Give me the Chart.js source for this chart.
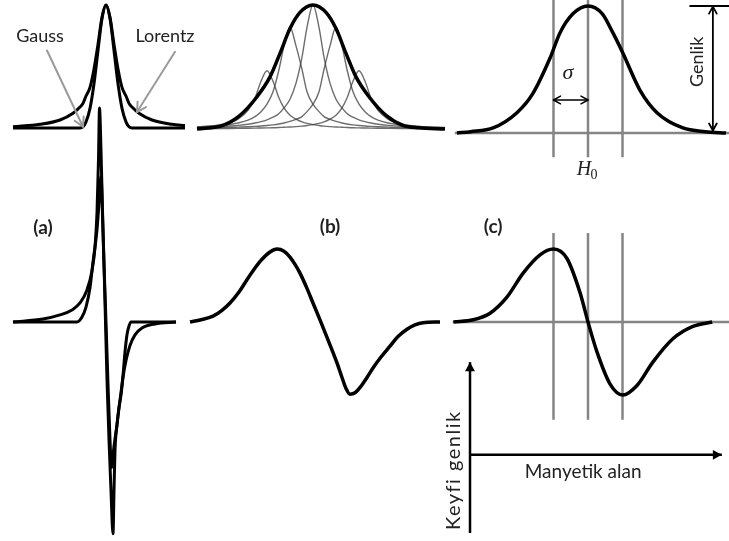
<!DOCTYPE html>
<html>
<head>
<meta charset="utf-8">
<script src="https://cdn.jsdelivr.net/npm/chart.js@4/dist/chart.umd.min.js"></script>
<style>
  html, body { margin: 0; padding: 0; background: #fff; }
  canvas { display: block; }
</style>
</head>
<body>
<canvas id="eprChart" width="729" height="541"></canvas>
<script>
// (a) absorption lines, field in arbitrary units, amplitude normalised
const absField = [-9.3, -6.6, -4.6, -3.3, -2.6, -2.3, -2.0, -1.6, -1.2, -0.8, -0.4, 0, 0.4, 0.8, 1.2, 1.6, 2.0, 2.3, 2.6, 3.3, 4.6, 6.6, 7.9];
const lorentzAbs = [0.01, 0.03, 0.065, 0.12, 0.17, 0.2, 0.26, 0.33, 0.48, 0.68, 0.9, 1, 0.9, 0.68, 0.48, 0.33, 0.26, 0.2, 0.17, 0.12, 0.065, 0.03, 0.02];
const gaussAbs = [0, 0, 0, 0, 0, 0.01, 0.05, 0.16, 0.36, 0.63, 0.89, 1, 0.89, 0.63, 0.36, 0.16, 0.05, 0.01, 0, 0, 0, 0, 0];

// (a) first derivatives
const lorentzDerField = [-9.3, -6.3, -4.6, -3.4, -2.6, -1.9, -1.4, -1.1, -0.9, -0.75, -0.65, -0.5, -0.35, -0.2, -0.05, 0.1, 0.3, 0.5, 0.7, 0.8, 0.9, 1.1, 1.3, 1.5, 1.7, 2.0, 2.4, 2.9, 3.6, 4.9, 7.0];
const lorentzDer = [0, 0.014, 0.033, 0.056, 0.089, 0.15, 0.24, 0.35, 0.51, 0.76, 1.0, 0.80, 0.52, 0.27, 0, -0.27, -0.55, -0.79, -0.99, -0.79, -0.60, -0.48, -0.40, -0.34, -0.26, -0.18, -0.11, -0.06, -0.028, -0.009, 0];
const gaussDerField = [-9.3, -2.9, -2.4, -2.0, -1.6, -1.3, -0.9, -0.65, -0.5, -0.35, -0.2, 0, 0.2, 0.4, 0.55, 0.8, 1.1, 1.3, 1.5, 1.7, 1.9, 2.1, 2.3, 2.5, 7.0];
const gaussDer = [0, 0, 0.023, 0.07, 0.16, 0.28, 0.43, 0.59, 0.68, 0.50, 0.27, 0, -0.29, -0.55, -0.68, -0.58, -0.48, -0.40, -0.33, -0.25, -0.14, -0.06, -0.019, 0, 0];

// (b) inhomogeneous line: envelope + spin packets
const envField = [-11.6, -9.0, -7.3, -5.6, -4.3, -3.3, -2.3, -1.3, 0, 1.3, 2.3, 3.3, 4.3, 5.6, 7.3, 9.0, 10.5, 13.2];
const envelope = [0, 0.03, 0.11, 0.26, 0.42, 0.61, 0.81, 0.94, 1, 0.94, 0.81, 0.61, 0.42, 0.26, 0.11, 0.03, 0.01, 0];
const packetField = [-11.6, -9, -7.5, -6.5, -5.8, -5.2, -4.6, -4.0, -3.4, -2.9, -2.3, -1.7, -1.1, -0.6, 0, 0.6, 1.1, 1.7, 2.3, 2.9, 3.4, 4.0, 4.6, 5.2, 5.8, 6.5, 7.5, 9, 11, 13.2];
const packet1 = [0.016, 0.038, 0.080, 0.15, 0.25, 0.385, 0.47, 0.385, 0.25, 0.17, 0.11, 0.08, 0.057, 0.045, 0.035, 0.028, 0.023, 0.019, 0.016, 0.014, 0.012, 0.010, 0.009, 0.008, 0.007, 0.006, 0.005, 0.004, 0.003, 0.002];
const packet2 = [0.016, 0.030, 0.048, 0.072, 0.10, 0.14, 0.20, 0.30, 0.48, 0.67, 0.82, 0.67, 0.48, 0.30, 0.20, 0.14, 0.10, 0.078, 0.061, 0.048, 0.040, 0.033, 0.028, 0.024, 0.021, 0.018, 0.015, 0.011, 0.008, 0.006];
const packet3 = [0.012, 0.02, 0.029, 0.038, 0.048, 0.059, 0.074, 0.095, 0.125, 0.17, 0.24, 0.37, 0.58, 0.82, 1, 0.82, 0.58, 0.37, 0.24, 0.17, 0.125, 0.095, 0.074, 0.059, 0.048, 0.038, 0.029, 0.02, 0.013, 0.01];
const packet4 = [0.007, 0.011, 0.015, 0.018, 0.021, 0.024, 0.028, 0.033, 0.040, 0.048, 0.061, 0.078, 0.10, 0.14, 0.20, 0.30, 0.48, 0.67, 0.82, 0.67, 0.48, 0.30, 0.20, 0.14, 0.10, 0.072, 0.048, 0.030, 0.018, 0.012];
const packet5 = [0.002, 0.004, 0.005, 0.006, 0.007, 0.008, 0.009, 0.010, 0.012, 0.014, 0.016, 0.019, 0.023, 0.028, 0.035, 0.045, 0.057, 0.08, 0.11, 0.17, 0.25, 0.385, 0.47, 0.385, 0.25, 0.15, 0.08, 0.038, 0.018, 0.010];
const derBField = [-12.3, -11.2, -10.0, -9.1, -8.3, -7.4, -6.6, -5.8, -5.1, -4.3, -3.6, -2.9, -2.3, -1.8, -1.3, -0.6, 0, 0.7, 1.4, 2.4, 2.9, 3.3, 3.7, 4.2, 4.8, 5.4, 6.0, 6.8, 7.7, 8.5, 9.4, 10.2, 11.0, 12.7];
const derB = [0, 0.03, 0.08, 0.16, 0.26, 0.41, 0.58, 0.74, 0.86, 0.96, 1.0, 0.97, 0.89, 0.79, 0.67, 0.46, 0.26, 0.03, -0.21, -0.56, -0.76, -0.91, -0.99, -0.97, -0.88, -0.76, -0.63, -0.48, -0.33, -0.20, -0.10, -0.04, -0.01, 0];

// (c) gaussian line, field in units of sigma
const cField = [-3.8, -3.4, -2.75, -2.06, -1.6, -1.1, -0.81, -0.43, 0, 0.41, 0.72, 1.01, 1.5, 2.0, 2.75, 3.4, 4.0];
const cAbs = [0, 0.01, 0.04, 0.16, 0.31, 0.59, 0.79, 0.94, 1, 0.94, 0.79, 0.63, 0.34, 0.16, 0.04, 0.01, 0];
const cDerField = [-3.9, -3.33, -2.84, -2.35, -1.88, -1.39, -1.0, -0.61, -0.23, 0, 0.26, 0.64, 1.01, 1.42, 1.88, 2.46, 3.04, 3.6];
const cDer = [0, 0.03, 0.12, 0.34, 0.67, 0.92, 1.0, 0.87, 0.40, 0, -0.41, -0.85, -1.0, -0.87, -0.55, -0.23, -0.06, 0];
const sigmaMarks = [-1, 0, 1];

const W = 729, H = 541;
const GRAY = '#858585';
const TEXT = '#222';
const SANS = 'Lato, "Open Sans", sans-serif';

// hidden linear scale so that value v0 sits at pixel p0 and v1 at p1
function xFit(v0, p0, v1, p1) {
    const k = (v1 - v0) / (p1 - p0);
    return { type: 'linear', display: false, bounds: 'data', min: v0 - p0 * k, max: v0 + (W - p0) * k };
}
function yFit(v0, p0, v1, p1) {
    const k = (v1 - v0) / (p0 - p1);
    const max = v0 + p0 * k;
    return { type: 'linear', display: false, bounds: 'data', min: max - H * k, max: max };
}

const pts = (xs, ys) => xs.map((x, i) => ({ x: x, y: ys[i] }));

function curve(xs, ys, xAxisID, yAxisID, color, width, order) {
    return {
        data: pts(xs, ys),
        xAxisID: xAxisID,
        yAxisID: yAxisID,
        borderColor: color,
        borderWidth: width,
        cubicInterpolationMode: 'monotone',
        borderJoinStyle: 'round',
        showLine: true,
        pointRadius: 0,
        clip: false,
        order: order
    };
}
function guide(points, xAxisID, yAxisID) {
    return {
        data: points,
        xAxisID: xAxisID,
        yAxisID: yAxisID,
        borderColor: GRAY,
        borderWidth: 2.5,
        showLine: true,
        pointRadius: 0,
        clip: false,
        order: 3
    };
}

const datasets = [
    curve(absField, lorentzAbs, 'xA', 'yAt', '#000', 3, 1),
    curve(absField, gaussAbs, 'xA', 'yAt', '#000', 3, 1),
    curve(lorentzDerField, lorentzDer, 'xA', 'yAb', '#000', 3, 1),
    curve(gaussDerField, gaussDer, 'xA', 'yAb', '#000', 3, 1),
    curve(envField, envelope, 'xB', 'yBt', '#000', 3.5, 1),
    curve(derBField, derB, 'xB', 'yBb', '#000', 3.5, 1),
    curve(cField, cAbs, 'xC', 'yCt', '#000', 3.5, 1),
    curve(cDerField, cDer, 'xC', 'yCb', '#000', 3.5, 1)
];
[packet1, packet2, packet3, packet4, packet5].forEach(p => {
    datasets.push(curve(packetField, p, 'xB', 'yBt', 'rgba(60,60,60,0.75)', 1.4, 2));
});
// gray guide lines of panel (c)
datasets.push(guide([{ x: -3.86, y: 0 }, { x: 4.09, y: 0 }], 'xC', 'yCt'));
datasets.push(guide([{ x: -3.92, y: 0 }, { x: 4.09, y: 0 }], 'xC', 'yCb'));
sigmaMarks.forEach(m => {
    datasets.push(guide([{ x: m, y: 1.05 }, { x: m, y: -0.19 }], 'xC', 'yCt'));
    datasets.push(guide([{ x: m, y: 1.22 }, { x: m, y: -1.34 }], 'xC', 'yCb'));
});

function arrowHead(ctx, x, y, angle, size, filled) {
    ctx.save();
    ctx.translate(x, y);
    ctx.rotate(angle);
    ctx.beginPath();
    ctx.moveTo(-size, -size * 0.55);
    ctx.lineTo(0, 0);
    ctx.lineTo(-size, size * 0.55);
    if (filled) {
        ctx.closePath();
        ctx.fill();
    } else {
        ctx.stroke();
    }
    ctx.restore();
}

function arrow(ctx, a, b, size, both, filled) {
    ctx.beginPath();
    ctx.moveTo(a[0], a[1]);
    ctx.lineTo(b[0], b[1]);
    ctx.stroke();
    const ang = Math.atan2(b[1] - a[1], b[0] - a[0]);
    arrowHead(ctx, b[0], b[1], ang, size, filled);
    if (both) arrowHead(ctx, a[0], a[1], ang + Math.PI, size, filled);
}

const annotations = {
    id: 'annotations',
    afterDatasetsDraw(chart) {
        const ctx = chart.ctx;
        const s = chart.scales;
        const P = (xs, ys, x, y) => [s[xs].getPixelForValue(x), s[ys].getPixelForValue(y)];
        const text = (str, p, font, rot, spacing) => {
            ctx.save();
            ctx.translate(p[0], p[1]);
            if (rot) ctx.rotate(rot);
            ctx.font = font;
            if (spacing) ctx.letterSpacing = spacing;
            ctx.fillStyle = TEXT;
            ctx.textAlign = 'center';
            ctx.textBaseline = 'middle';
            ctx.fillText(str, 0, 0);
            ctx.restore();
        };
        ctx.save();
        ctx.lineCap = 'round';
        ctx.lineJoin = 'round';

        // (a) labels with gray pointers
        text('Gauss', P('xA', 'yAt', -6.6, 0.75), '18px ' + SANS);
        text('Lorentz', P('xA', 'yAt', 5.9, 0.75), '18px ' + SANS);
        ctx.strokeStyle = '#9a9a9a';
        ctx.lineWidth = 2;
        arrow(ctx, P('xA', 'yAt', -5.9, 0.63), P('xA', 'yAt', -2.3, 0.01), 9, false, false);
        arrow(ctx, P('xA', 'yAt', 6.9, 0.62), P('xA', 'yAt', 3.1, 0.13), 9, false, false);

        // panel letters
        text('(a)', P('xA', 'yAb', -6.3, 0.44), 'bold 19px ' + SANS);
        text('(b)', P('xB', 'yBb', 1.7, 1.30), 'bold 19px ' + SANS);
        text('(c)', P('xC', 'yCb', -2.75, 1.30), 'bold 19px ' + SANS);

        // (c) sigma, H0, amplitude
        ctx.strokeStyle = '#000';
        ctx.fillStyle = '#000';
        ctx.lineWidth = 1.5;
        arrow(ctx, P('xC', 'yCt', -1, 0.26), P('xC', 'yCt', 0, 0.26), 7, true, false);
        text('\u03C3', P('xC', 'yCt', -0.58, 0.47), 'italic 22px "Liberation Serif", serif');
        const h = P('xC', 'yCt', 0, -0.29);
        text('H', [h[0] - 4, h[1]], 'italic 20px "Liberation Serif", serif');
        text('0', [h[0] + 6, h[1] + 5], '14px "Liberation Serif", serif');

        ctx.lineWidth = 1.8;
        const g0 = P('xC', 'yCt', 2.96, 1), g1 = P('xC', 'yCt', 4.1, 1);
        ctx.beginPath();
        ctx.moveTo(g0[0], g0[1]);
        ctx.lineTo(g1[0], g1[1]);
        ctx.stroke();
        arrow(ctx, P('xC', 'yCt', 3.62, 0.995), P('xC', 'yCt', 3.62, 0.02), 7, true, false);
        text('Genlik', P('xC', 'yCt', 3.16, 0.56), '18px ' + SANS, -Math.PI / 2);

        // axes key
        ctx.lineWidth = 2.5;
        ctx.lineCap = 'butt';
        arrow(ctx, P('xC', 'yCb', -3.42, -2.89), P('xC', 'yCb', -3.42, -0.55), 9, false, true);
        arrow(ctx, P('xC', 'yCb', -3.42, -1.82), P('xC', 'yCb', 3.88, -1.82), 9, false, true);
        text('Manyetik alan', P('xC', 'yCb', -0.14, -2.05), '19px ' + SANS);
        text('Keyfi genlik', P('xC', 'yCb', -3.91, -2.03), '20px ' + SANS, -Math.PI / 2, '1.5px');
        ctx.restore();
    }
};

new Chart(document.getElementById('eprChart'), {
    type: 'scatter',
    data: { datasets: datasets },
    options: {
        responsive: false,
        animation: false,
        layout: { padding: 0 },
        elements: { line: { tension: 0 } },
        plugins: { legend: { display: false }, tooltip: { enabled: false } },
        scales: {
            x: { display: false },
            y: { display: false },
            xA: xFit(0, 106, 1, 116),
            yAt: yFit(0, 128, 1, 5),
            yAb: yFit(0, 322, 1, 108),
            xB: xFit(0, 313, 1, 323),
            yBt: yFit(0, 129, 1, 5),
            yBb: yFit(0, 322, 1, 249),
            xC: xFit(0, 588, 1, 622.5),
            yCt: yFit(0, 133, 1, 6),
            yCb: yFit(0, 322, 1, 249)
        }
    },
    plugins: [annotations]
});
</script>
</body>
</html>
